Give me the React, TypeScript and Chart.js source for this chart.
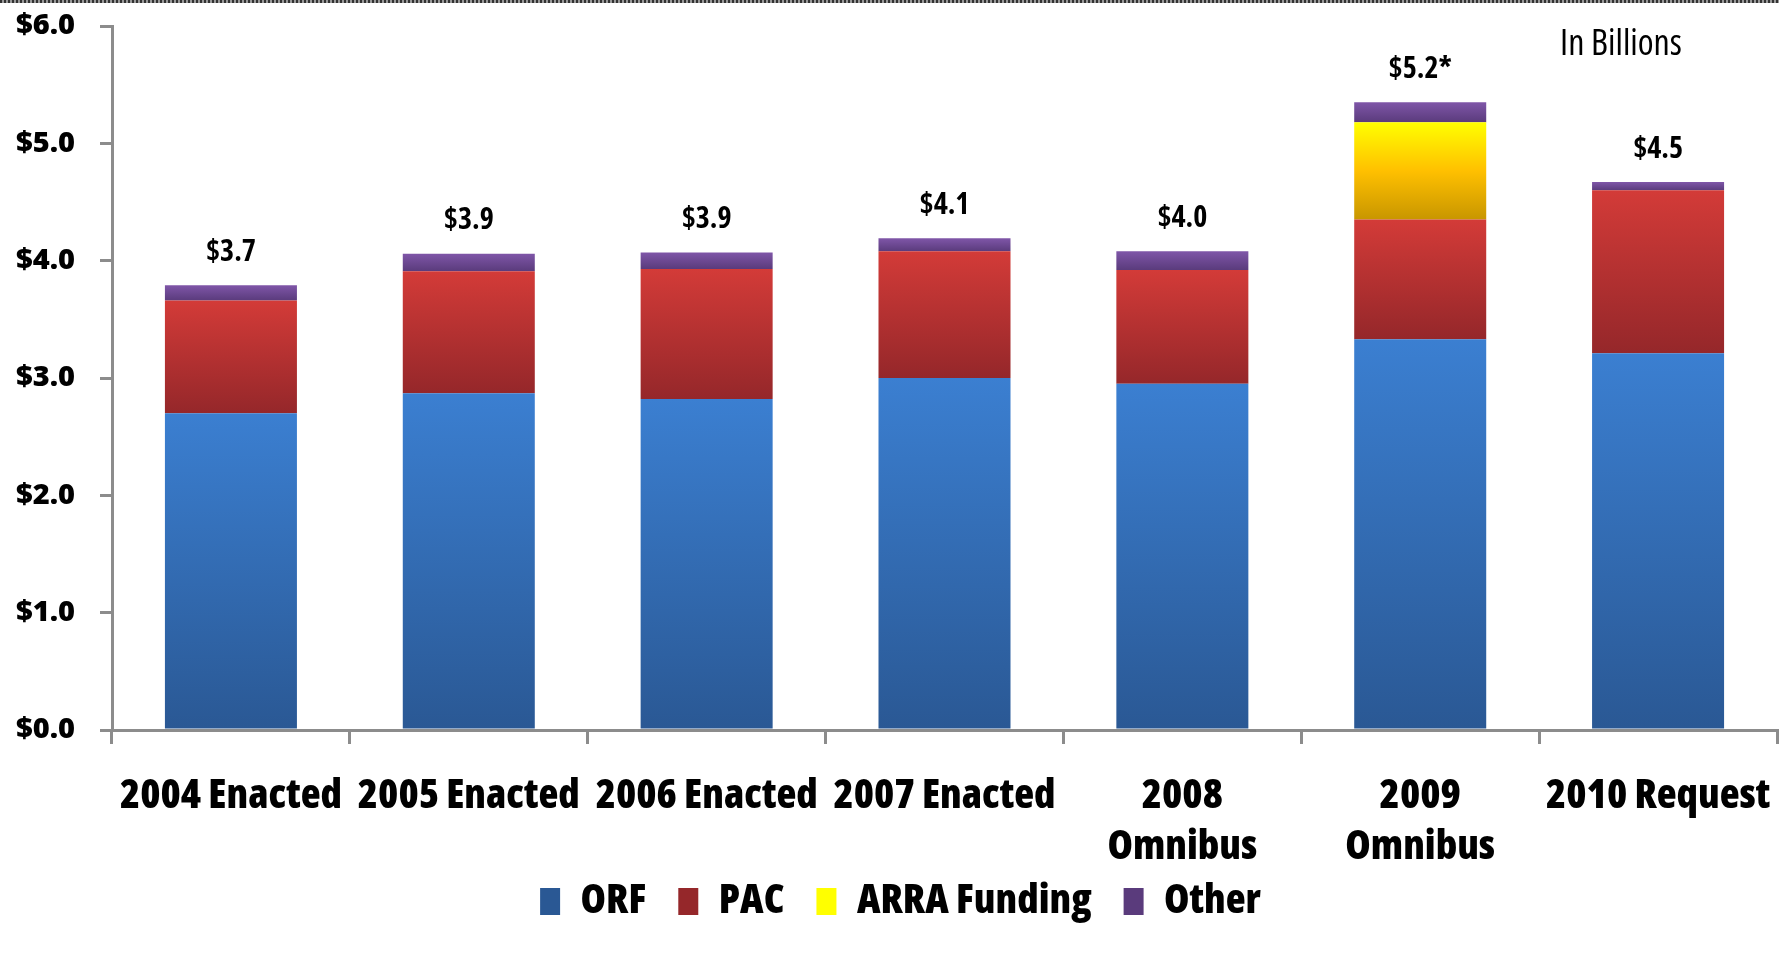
import React, { useEffect, useRef } from "react";
import { Chart, registerables } from "chart.js";

Chart.register(...registerables);

// ---- data ----
const categories: (string | string[])[] = [
  "2004 Enacted",
  "2005 Enacted",
  "2006 Enacted",
  "2007 Enacted",
  ["2008", "Omnibus"],
  ["2009", "Omnibus"],
  "2010 Request",
];
const orf = [2.7, 2.87, 2.82, 3.0, 2.95, 3.33, 3.21];
const pac = [0.96, 1.04, 1.11, 1.08, 0.97, 1.02, 1.39];
const arra = [0, 0, 0, 0, 0, 0.83, 0];
const other = [0.13, 0.15, 0.14, 0.11, 0.16, 0.17, 0.07];
const totalLabels = ["$3.7", "$3.9", "$3.9", "$4.1", "$4.0", "$5.2*", "$4.5"];
const yTickLabels = ["$0.0", "$1.0", "$2.0", "$3.0", "$4.0", "$5.0", "$6.0"];
const seriesNames = ["ORF", "PAC", "ARRA Funding", "Other"];
const unitNote = "In Billions";

// ---- styles ----
const FAMILY = '"Open Sans", "Roboto Condensed", sans-serif';
const HEAVY = "800 condensed"; // weight + stretch for the condensed extra-bold look
const AXIS = "#8c8c8c";
const gradients: string[][] = [
  ["#3b7fd1", "#2a5894"],
  ["#d33b38", "#95272a"],
  ["#ffff00", "#ffc000", "#c89600"],
  ["#7f56a8", "#5a3b7c"],
];
const solids = ["#3270bd", "#bb3231", "#f2c200", "#6c4892"];

function makeFill(dsIndex: number) {
  const stops = gradients[dsIndex];
  return (ctx: any) => {
    const chart = ctx.chart;
    const y = chart.scales && chart.scales.y;
    if (ctx.type !== "data" || !y || !chart.chartArea) return solids[dsIndex];
    const i = ctx.dataIndex;
    let base = 0;
    for (let k = 0; k < dsIndex; k++) base += Number(chart.data.datasets[k].data[i]) || 0;
    const top = base + (Number(chart.data.datasets[dsIndex].data[i]) || 0);
    const y0 = y.getPixelForValue(top);
    const y1 = y.getPixelForValue(base);
    if (!(y1 - y0 > 0.5)) return stops[0];
    const g = chart.ctx.createLinearGradient(0, y0, 0, y1);
    stops.forEach((c, n) => g.addColorStop(n / (stops.length - 1), c));
    return g;
  };
}

const legendShiftPlugin = {
  id: "legendShift",
  afterLayout(chart: any) {
    const lg = chart.legend;
    if (lg) {
      lg.top -= 20;
      lg.bottom -= 20;
      lg.left += 12;
      lg.right += 12;
    }
  },
};

const topLabelsPlugin = {
  id: "topLabels",
  afterDatasetsDraw(chart: any) {
    const { ctx } = chart;
    const y = chart.scales.y;
    const meta = chart.getDatasetMeta(chart.data.datasets.length - 1);
    ctx.save();
    ctx.fillStyle = "#000";
    ctx.textAlign = "center";
    ctx.textBaseline = "middle";
    ctx.font = "bold condensed 30px " + FAMILY;
    categories.forEach((_, i) => {
      let total = 0;
      chart.data.datasets.forEach((d: any) => (total += Number(d.data[i]) || 0));
      const el = meta.data[i];
      if (!el) return;
      ctx.fillText(totalLabels[i], el.x, y.getPixelForValue(total) - 33);
    });
    ctx.font = "normal condensed 36px " + FAMILY;
    ctx.fillText(unitNote, chart.chartArea.right - 156, 45);
    ctx.restore();
  },
};

export default function App() {
  const ref = useRef<HTMLCanvasElement>(null);
  useEffect(() => {
    document.body.style.margin = "0";
    const seriesData = [orf, pac, arra, other];
    const chart = new Chart(ref.current as HTMLCanvasElement, {
      type: "bar",
      data: {
        labels: categories as any,
        datasets: seriesData.map((d, k) => ({
          label: seriesNames[k],
          data: d,
          backgroundColor: makeFill(k) as any,
          borderWidth: 0,
          barPercentage: 0.555,
          categoryPercentage: 1,
        })),
      },
      options: {
        responsive: false,
        animation: false,
        layout: { padding: { top: 26, right: 2, left: 0, bottom: 1 } },
        plugins: {
          legend: {
            position: "bottom",
            labels: {
              color: "#000",
              font: { family: FAMILY, size: 41, weight: HEAVY as any },
              boxWidth: 20,
              boxHeight: 27,
              padding: 32,
            },
          },
          tooltip: { enabled: false },
        },
        scales: {
          x: {
            stacked: true,
            grid: {
              offset: true,
              drawOnChartArea: false,
              drawTicks: true,
              tickLength: 14,
              color: AXIS,
              lineWidth: 3,
            },
            border: { display: true, color: AXIS, width: 3 },
            ticks: {
              color: "#000",
              font: { family: FAMILY, size: 41, weight: HEAVY as any, lineHeight: 1.244 },
              padding: 27,
              maxRotation: 0,
              minRotation: 0,
              autoSkip: false,
            },
            afterFit: (s: any) => {
              s.height = 139;
              s.paddingLeft = 0;
              s.paddingRight = 0;
            },
          },
          y: {
            stacked: true,
            min: 0,
            max: 6,
            ticks: {
              stepSize: 1,
              color: "#000",
              font: { family: FAMILY, size: 29, weight: "800" },
              padding: 25,
              callback: (_v: any, idx: number) => yTickLabels[idx],
            },
            grid: {
              drawOnChartArea: false,
              drawTicks: true,
              tickLength: 12,
              color: AXIS,
              lineWidth: 3,
            },
            border: { display: true, color: AXIS, width: 3 },
            afterFit: (s: any) => {
              s.width = 112;
              s.paddingTop = 0;
              s.paddingBottom = 0;
            },
          },
        },
      },
      plugins: [legendShiftPlugin, topLabelsPlugin],
    });
    return () => chart.destroy();
  }, []);

  return (
    <div style={{ position: "absolute", left: 0, top: 0, width: 1779, height: 953, background: "#fff" }}>
      <canvas ref={ref} width={1779} height={953} style={{ display: "block" }} />
      <div
        style={{
          position: "absolute",
          left: 0,
          top: 0,
          width: "100%",
          height: 3,
          background: "repeating-linear-gradient(90deg, #333 0px, #333 2px, #999 2px, #999 4px)",
        }}
      />
    </div>
  );
}
